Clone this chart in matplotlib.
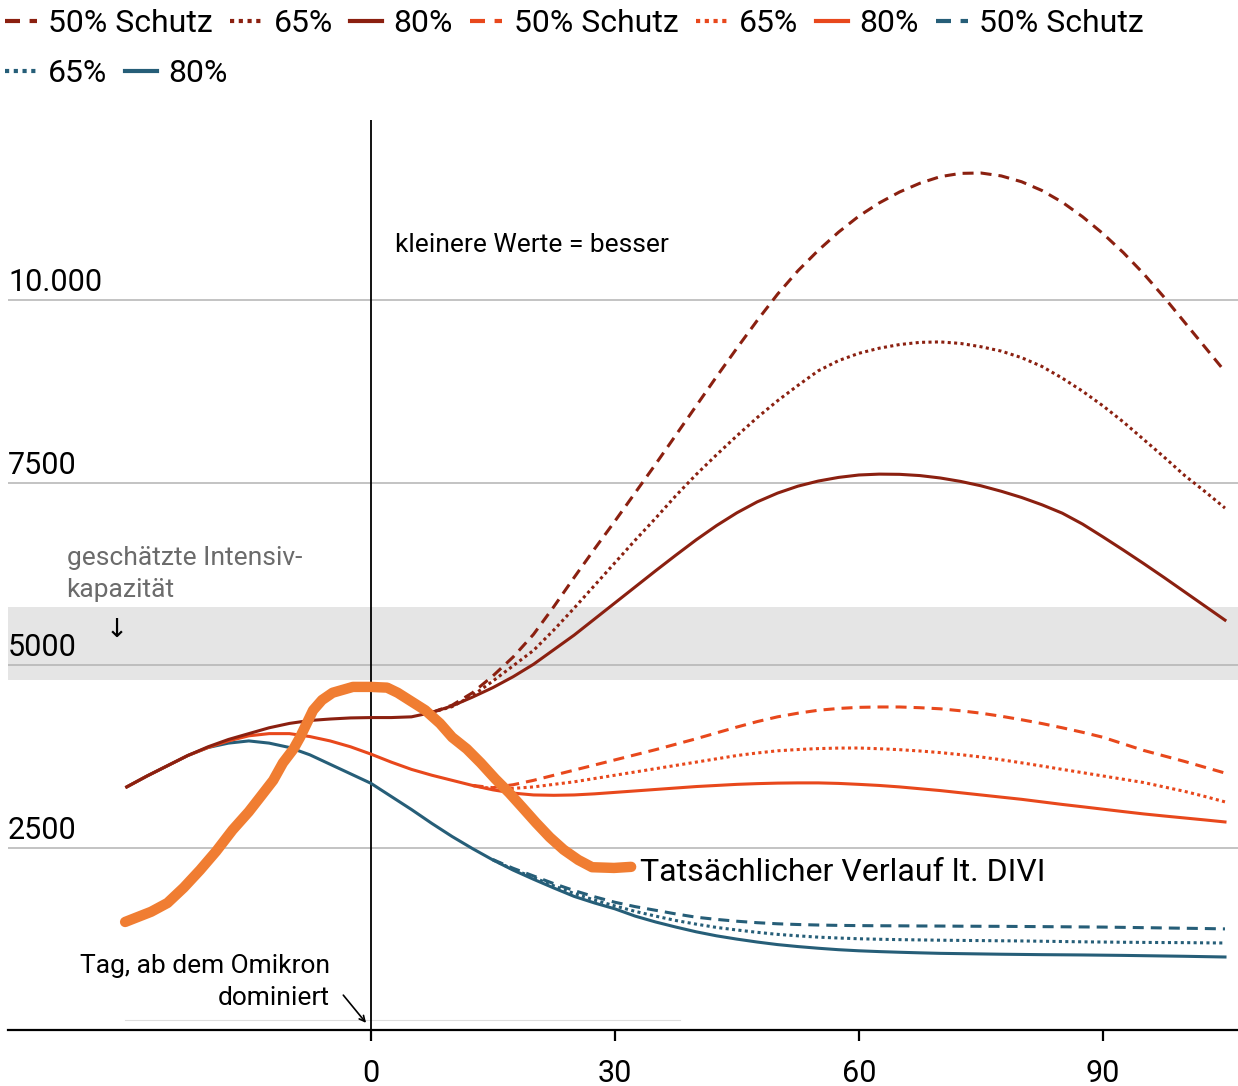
import numpy as np
import matplotlib.pyplot as plt
import matplotlib.transforms as mtransforms
from matplotlib.lines import Line2D

plt.rcParams['font.family'] = ['Roboto', 'DejaVu Sans']

# -----------------------------
# Daten (Tage relativ zur Omikron-Dominanz, Intensivpatienten)
# -----------------------------
DARK = '#8B2010'
RED = '#E8481C'
TEAL = '#265E78'
DIVI_C = '#F07D32'

# Tagesraster (2,5-Tage-Schritte), jeweils ab dem ersten Ablesewert
days_all = np.arange(-30, 105.1, 2.5)
days_d = np.arange(7.5, 105.1, 2.5)
days_r = np.arange(12.5, 105.1, 2.5)
days_t = np.arange(15, 105.1, 2.5)

dark_80 = [3330, 3480, 3620, 3760, 3880, 3980, 4060, 4140, 4200, 4240, 4260, 4275,
           4280, 4280, 4290, 4350, 4440, 4560, 4690, 4840, 5010, 5210, 5410, 5630,
           5850, 6070, 6290, 6505, 6715, 6910, 7085, 7235, 7355, 7450, 7520, 7570,
           7603, 7615, 7612, 7595, 7562, 7515, 7455, 7380, 7295, 7195, 7080, 6930,
           6755, 6575, 6390, 6200, 6005, 5810, 5615]
dark_50 = [4350, 4450, 4620, 4850, 5110, 5420, 5800, 6200, 6590, 6970, 7360, 7750,
           8150, 8550, 8950, 9340, 9720, 10080, 10400, 10680, 10930, 11150, 11330,
           11480, 11600, 11690, 11735, 11740, 11700, 11620, 11500, 11340, 11140,
           10910, 10650, 10360, 10040, 9700, 9360, 9020]
dark_65 = [4350, 4430, 4580, 4780, 4990, 5200, 5480, 5780, 6090, 6400, 6710, 7010,
           7320, 7610, 7880, 8140, 8390, 8620, 8830, 9030, 9170, 9270, 9340, 9390,
           9420, 9426, 9405, 9360, 9300, 9210, 9090, 8930, 8750, 8550, 8330, 8090,
           7850, 7600, 7380, 7150]

red_80 = [3330, 3480, 3620, 3760, 3870, 3960, 4030, 4060, 4060, 4020, 3960, 3880,
          3780, 3670, 3570, 3490, 3420, 3350, 3290, 3245, 3220, 3215, 3220, 3235,
          3255, 3275, 3295, 3315, 3335, 3350, 3365, 3375, 3382, 3385, 3385, 3378,
          3365, 3350, 3330, 3305, 3280, 3250, 3220, 3190, 3160, 3125, 3090, 3058,
          3025, 2992, 2960, 2932, 2905, 2878, 2850]
red_50 = [3350, 3320, 3360, 3420, 3490, 3560, 3630, 3700, 3770, 3840, 3915, 3990,
          4070, 4150, 4225, 4290, 4340, 4380, 4405, 4420, 4425, 4425, 4415, 4400,
          4373, 4340, 4298, 4250, 4198, 4140, 4078, 4010, 3920, 3830, 3755, 3680,
          3600, 3520]
red_65 = [3350, 3305, 3310, 3330, 3365, 3400, 3445, 3490, 3535, 3580, 3625, 3670,
          3715, 3760, 3795, 3825, 3842, 3855, 3862, 3863, 3853, 3840, 3822, 3800,
          3772, 3740, 3702, 3660, 3616, 3570, 3525, 3480, 3435, 3390, 3330, 3270,
          3200, 3125]

teal_80 = [3330, 3480, 3620, 3760, 3870, 3930, 3960, 3930, 3870, 3770, 3640, 3510,
           3380, 3200, 3020, 2830, 2650, 2485, 2330, 2190, 2065, 1945, 1830, 1740,
           1660, 1560, 1480, 1410, 1345, 1290, 1245, 1205, 1170, 1143, 1120, 1100,
           1085, 1074, 1065, 1057, 1050, 1046, 1042, 1038, 1035, 1032, 1030, 1028,
           1025, 1022, 1018, 1014, 1010, 1005, 1000]
teal_50 = [2335, 2215, 2110, 2005, 1910, 1825, 1750, 1690, 1640, 1590, 1545, 1515,
           1490, 1470, 1455, 1445, 1438, 1433, 1430, 1428, 1427, 1425, 1424, 1422,
           1421, 1420, 1418, 1416, 1414, 1412, 1410, 1406, 1402, 1398, 1394, 1390,
           1385]
teal_65 = [2332, 2200, 2090, 1975, 1870, 1780, 1700, 1625, 1560, 1500, 1450, 1405,
           1370, 1338, 1310, 1290, 1272, 1260, 1250, 1243, 1238, 1234, 1230, 1227,
           1225, 1222, 1220, 1216, 1212, 1208, 1205, 1202, 1200, 1198, 1197, 1194,
           1192]

divi_days = [-30.2, -27, -25, -23, -21, -19, -17, -15, -13.6, -12, -10.8, -9.5,
             -8.7, -7.1, -6, -4.7, -2.2, 0, 2, 3.3, 5, 6.7, 8.5, 10, 11.8, 13.5,
             15.3, 17, 18.7, 20.3, 22, 23.7, 25.5, 27.2, 29.9, 32]
divi_vals = [1480, 1620, 1740, 1950, 2190, 2450, 2740, 2990, 3190, 3420, 3660, 3850,
             4010, 4380, 4520, 4620, 4700, 4700, 4690, 4620, 4500, 4380, 4200, 4010,
             3850, 3660, 3440, 3250, 3040, 2840, 2640, 2470, 2330, 2230, 2220, 2235]

y_ticks = [2500, 5000, 7500, 10000]
y_labels = ['2500', '5000', '7500', '10.000']
x_ticks = [0, 30, 60, 90]
capacity = (4800, 5800)

# -----------------------------
# Figur
# -----------------------------
fig = plt.figure(figsize=(12.38, 10.86), dpi=100)
ax = fig.add_axes([8 / 1238, 56 / 1086, 1230 / 1238, 910 / 1086])
ax.set_xlim(-44.6, 106.6)
ax.set_ylim(0, 12466)

ax.axhspan(*capacity, color='#e5e5e5', lw=0, zorder=0)
for v in y_ticks:
    ax.axhline(v, color='#b3b3b3', lw=1.1, zorder=1)
ax.plot([-30.2, 38], [137, 137], color='#dddddd', lw=0.8, zorder=1)
ax.axvline(0, color='black', lw=1.3, zorder=2)

dash = (0, (3.6, 2.3))
dot = (0, (1, 1.1))
lw = 2.2

ax.plot(days_all, teal_80, color=TEAL, lw=lw, zorder=3)
ax.plot(days_t, teal_65, color=TEAL, lw=lw, ls=dot, zorder=3)
ax.plot(days_t, teal_50, color=TEAL, lw=lw, ls=dash, zorder=3)
ax.plot(days_all, red_80, color=RED, lw=lw, zorder=4)
ax.plot(days_r, red_65, color=RED, lw=lw, ls=dot, zorder=4)
ax.plot(days_r, red_50, color=RED, lw=lw, ls=dash, zorder=4)
ax.plot(days_all, dark_80, color=DARK, lw=lw, zorder=5)
ax.plot(days_d, dark_65, color=DARK, lw=lw, ls=dot, zorder=5)
ax.plot(days_d, dark_50, color=DARK, lw=lw, ls=dash, zorder=5)

ax.plot(divi_days, divi_vals, color=DIVI_C, lw=7.5, solid_capstyle='round',
        solid_joinstyle='round', zorder=6)

# Achsen
for s in ['left', 'right', 'top']:
    ax.spines[s].set_visible(False)
ax.spines['bottom'].set_linewidth(1.6)
ax.set_yticks([])
ax.set_xticks(x_ticks)
ax.tick_params(axis='x', length=8, width=1.6, pad=13, labelsize=22)

trans = mtransforms.blended_transform_factory(ax.transAxes, ax.transData)
for v, lab in zip(y_ticks, y_labels):
    ax.annotate(lab, xy=(0, v), xycoords=trans, xytext=(0, 2),
                textcoords='offset points', ha='left', va='bottom', fontsize=22)

# Beschriftungen
ax.text(2.95, 10754, 'kleinere Werte = besser', fontsize=19, va='center')
ax.text(-37.4, 6247, 'geschätzte Intensiv-\nkapazität', fontsize=19,
        color='#6b6b6b', va='center', linespacing=1.4)
ax.text(-31.2, 5480, '↓', fontsize=19, ha='center', va='center',
        family=['DejaVu Sans'])
ax.text(-5.0, 658, 'Tag, ab dem Omikron\ndominiert', fontsize=19, ha='right',
        va='center', linespacing=1.4)
ax.annotate('', xy=(-0.37, 68), xytext=(-3.6, 507),
            arrowprops=dict(arrowstyle='->', lw=1.2, color='black'))
ax.text(33.1, 2164, 'Tatsächlicher Verlauf lt. DIVI', fontsize=23, va='center')

# Legende (zwei Zeilen)
def h(color, ls):
    return Line2D([], [], color=color, lw=3, ls=ls)

row1 = [h(DARK, dash), h(DARK, dot), h(DARK, '-'), h(RED, dash), h(RED, dot),
        h(RED, '-'), h(TEAL, dash)]
lab1 = ['50% Schutz', '65%', '80%', '50% Schutz', '65%', '80%', '50% Schutz']
row2 = [h(TEAL, dot), h(TEAL, '-')]
lab2 = ['65%', '80%']

leg_kw = dict(frameon=False, fontsize=23, handlelength=1.0, handletextpad=0.35,
              columnspacing=0.55, borderpad=0, borderaxespad=0, loc='center left')
fig.legend(row1, lab1, ncol=7, bbox_to_anchor=(0.004, 1 - 24 / 1086), **leg_kw)
fig.legend(row2, lab2, ncol=2, bbox_to_anchor=(0.004, 1 - 74 / 1086), **leg_kw)

fig.savefig('out.png', dpi=100)
